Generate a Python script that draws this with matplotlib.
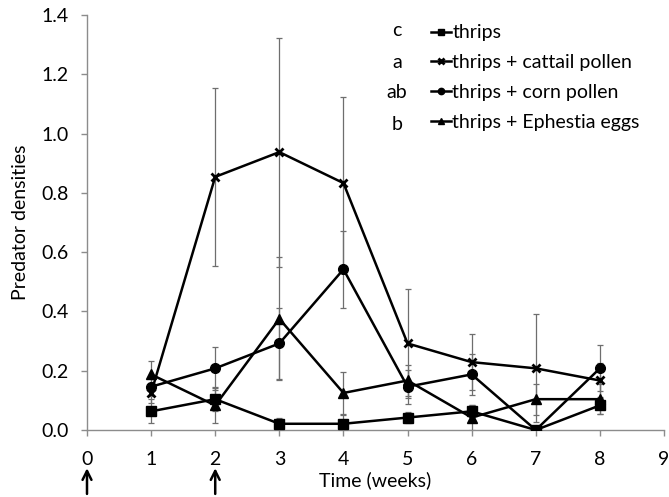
import matplotlib
matplotlib.use("Agg")
import matplotlib.pyplot as plt
import numpy as np

plt.rcParams['font.family'] = ['Lato', 'DejaVu Sans']

weeks = [1, 2, 3, 4, 5, 6, 7, 8]
series_names = ["thrips", "thrips + cattail pollen", "thrips + corn pollen", "thrips + Ephestia eggs"]
letters = ["c", "a", "ab", "b"]
thrips = [0.063, 0.104, 0.021, 0.021, 0.042, 0.063, 0.0, 0.083]
thrips_err = [0.040, 0.040, 0.020, 0.030, 0.020, 0.020, 0.0, 0.030]
cattail = [0.125, 0.854, 0.9375, 0.833, 0.292, 0.229, 0.208, 0.167]
cattail_err = [0.035, 0.300, 0.386, 0.292, 0.183, 0.094, 0.182, 0.060]
corn = [0.146, 0.208, 0.292, 0.542, 0.146, 0.1875, 0.0, 0.208]
corn_err = [0.030, 0.073, 0.120, 0.130, 0.057, 0.070, 0.0, 0.078]
ephestia = [0.1875, 0.083, 0.375, 0.125, 0.167, 0.042, 0.104, 0.104]
ephestia_err = [0.046, 0.058, 0.208, 0.072, 0.052, 0.042, 0.052, 0.050]
xticks = list(range(0, 10))
yticks = [0.0, 0.2, 0.4, 0.6, 0.8, 1.0, 1.2, 1.4]
arrow_weeks = [0, 2]

FS = 14

fig = plt.figure(figsize=(6.69, 4.97), dpi=100)
ax = fig.add_axes([87/669, 67/497, 577/669, 415/497])

data = [(thrips, thrips_err, 's'), (cattail, cattail_err, 'x'),
        (corn, corn_err, 'o'), (ephestia, ephestia_err, '^')]
handles = []
for (vals, errs, mk), name in zip(data, series_names):
    ax.errorbar(weeks, vals, yerr=errs, fmt='none', ecolor='#6e6e6e',
                elinewidth=0.9, capsize=2.5, capthick=0.9, zorder=2)
    ms = 7 if mk != 'x' else 6
    mew = 1 if mk != 'x' else 2
    h, = ax.plot(weeks, vals, color='black', lw=1.8, marker=mk, markersize=ms,
                 markeredgewidth=mew, markerfacecolor='black', markeredgecolor='black',
                 label=name, zorder=3)
    handles.append(h)

ax.set_xlim(0, 9)
ax.set_ylim(0, 1.4)
ax.set_xticks(xticks)
ax.set_yticks(yticks)
ax.set_yticklabels([f"{v:.1f}" for v in yticks])
for s in ['top', 'right']:
    ax.spines[s].set_visible(False)
for s in ['left', 'bottom']:
    ax.spines[s].set_color('#8c8c8c')
    ax.spines[s].set_linewidth(1.0)
ax.tick_params(axis='both', colors='#8c8c8c', labelcolor='black', labelsize=FS,
               length=4, width=1.0, direction='out')
ax.tick_params(axis='x', pad=11)
ax.tick_params(axis='y', pad=9)
ax.set_xlabel("Time (weeks)", fontsize=FS)
ax.xaxis.set_label_coords(0.499, -0.12)
ax.xaxis.label.set_va('center')
ax.set_ylabel("Predator densities", fontsize=FS)
ax.yaxis.set_label_coords(-0.116, 0.5)
ax.yaxis.label.set_va('center')

leg = ax.legend(handles=handles, loc='center left', frameon=False, fontsize=FS,
                handlelength=1.05, handletextpad=0.05, labelspacing=0.655,
                markerscale=0.65, borderaxespad=0, borderpad=0)
leg.set_bbox_to_anchor(((431 - 87)/577, (430 - 77.5)/415), transform=ax.transAxes)

legend_y = [30, 62, 93, 125]
for lt, yy in zip(letters, legend_y):
    fig.text(397/669, 1 - yy/497, lt, fontsize=FS, ha='center', va='center')

trans = matplotlib.transforms.blended_transform_factory(ax.transData, ax.transAxes)
for xw in arrow_weeks:
    ax.annotate("", xy=(xw, -0.092), xytext=(xw, -0.154), xycoords=trans, textcoords=trans,
                arrowprops=dict(arrowstyle='->', color='black', lw=1.8, mutation_scale=16,
                                shrinkA=0, shrinkB=0),
                annotation_clip=False)

fig.savefig("out.png", dpi=100)
